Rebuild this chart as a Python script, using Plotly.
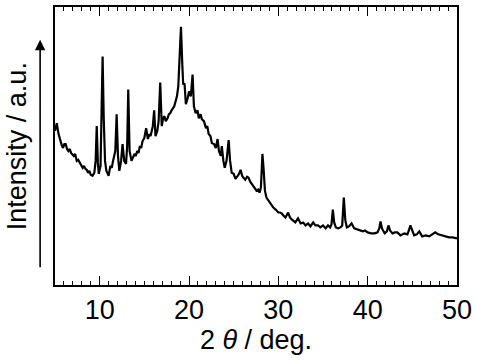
import plotly.graph_objects as go

# 2theta (deg) and intensity (a.u.)
two_theta = [
    5.0, 5.2, 5.4, 5.6, 5.75, 5.9, 6.05, 6.2, 6.35, 6.5, 6.65, 6.8, 6.95, 7.1, 7.25,
    7.44, 7.6, 7.8, 7.95, 8.1, 8.25, 8.4, 8.55, 8.7, 8.85, 9.0, 9.2, 9.4, 9.55, 9.67,
    9.8, 9.9, 10.1, 10.22, 10.33, 10.45, 10.6, 10.75, 11.0, 11.2, 11.35, 11.5, 11.75,
    11.9, 12.05, 12.2, 12.4, 12.56, 12.75, 12.95, 13.08, 13.2, 13.35, 13.56, 13.75,
    13.9, 14.05, 14.2, 14.35, 14.5, 14.65, 14.8, 15.0, 15.2, 15.4, 15.55, 15.7, 15.95,
    16.1, 16.25, 16.45, 16.6, 16.78, 16.95, 17.1, 17.25, 17.4, 17.6, 17.75, 17.9, 18.05,
    18.2, 18.35, 18.5, 18.65, 18.8, 18.95, 19.1, 19.25, 19.35, 19.5, 19.65, 19.85, 20.0,
    20.2, 20.4, 20.55, 20.75, 20.95, 21.1, 21.3, 21.44, 21.67, 21.9, 22.05, 22.2, 22.4,
    22.56, 22.8, 23.0, 23.2, 23.35, 23.56, 23.67, 23.85, 24.0, 24.2, 24.44, 24.6,
    24.78, 25.0, 25.2, 25.45, 25.6, 25.78, 25.95, 26.1, 26.3, 26.5, 26.67, 26.85, 27.0,
    27.2, 27.4, 27.56, 27.75, 27.9, 28.05, 28.22, 28.35, 28.5, 28.67, 28.9, 29.2, 29.44,
    29.7, 30.0, 30.2, 30.4, 30.56, 30.8, 31.1, 31.3, 31.5, 31.67, 31.9, 32.2, 32.5,
    32.78, 33.05, 33.33, 33.6, 33.9, 34.15, 34.44, 34.7, 35.0, 35.3, 35.56, 35.8, 35.95,
    36.1, 36.25, 36.44, 36.7, 36.95, 37.15, 37.33, 37.5, 37.67, 37.9, 38.2, 38.5, 38.9,
    39.2, 39.44, 39.7, 40.0, 40.4, 40.78, 41.1, 41.3, 41.44, 41.6, 41.9, 42.15, 42.33,
    42.5, 42.78, 43.05, 43.33, 43.67, 44.1, 44.45, 44.65, 44.78, 44.95, 45.2, 45.5,
    45.78, 46.1, 46.5, 46.9, 47.2, 47.56, 47.9, 48.33, 48.7, 49.1, 49.5, 50.0,
]
intensity = [
    155, 163, 152, 145, 141, 138, 142, 142, 137, 135, 137, 133, 131, 130, 132,
    125, 126, 123, 120, 118, 120, 117, 116, 113, 115, 111, 110, 113, 125, 160,
    123, 112, 120, 175, 230, 170, 125, 115, 110, 120, 118, 125, 135,
    172, 130, 115, 125, 142, 125, 122, 140, 197, 135, 125, 130,
    132, 130, 135, 133, 140, 138, 145, 148, 158, 147, 152, 150, 160,
    176, 150, 155, 165, 204, 160, 168, 170, 165, 168, 172, 173, 176,
    178, 180, 185, 190, 200, 225, 260, 222, 202, 203, 182, 188, 195,
    190, 212, 180, 173, 176, 168, 172, 167, 165, 158, 160, 152, 150,
    143, 142, 138, 147, 135, 130, 140, 125, 118, 125, 146, 125,
    113, 112, 107, 110, 112, 116, 110, 108, 106, 109, 108, 104, 102,
    100, 97, 95, 96, 93, 98, 132, 117, 95, 88, 85, 80, 78,
    76, 73, 73, 72, 70, 68, 73, 68, 66, 65, 63, 67, 62,
    63, 60, 62, 59, 63, 60, 60, 58, 60, 57, 60, 58, 61,
    76, 63, 58, 57, 58, 60, 88, 65, 58, 59, 62, 57, 56,
    55, 54, 55, 53, 52, 52, 53, 57, 64, 57, 52, 54, 60,
    55, 52, 53, 53, 50, 52, 51, 56, 60, 56, 50, 51,
    54, 49, 50, 49, 51, 53, 51, 50, 49, 48, 48, 47,
]

FONT = "Liberation Sans, Arial, sans-serif"
TEXT_SIZE = 27

fig = go.Figure()

fig.add_trace(go.Scatter(
    x=two_theta,
    y=intensity,
    mode="lines",
    line=dict(color="black", width=2.2),
    showlegend=False,
))

# arrow along the intensity axis
fig.add_annotation(
    x=-0.037, y=0.882, xref="paper", yref="paper",
    ax=0, ay=229, axref="pixel", ayref="pixel",
    text="", showarrow=True,
    arrowhead=2, arrowsize=1.3, arrowwidth=1.6, arrowcolor="black",
)

fig.add_annotation(
    x=-0.094, y=0.5, xref="paper", yref="paper", xanchor="center", yanchor="middle",
    text="Intensity / a.u.", textangle=-90, showarrow=False,
    font=dict(family=FONT, size=TEXT_SIZE, color="black"),
)

fig.update_xaxes(
    range=[5, 50],
    tickvals=[10, 20, 30, 40, 50],
    ticks="inside", ticklen=9, tickwidth=1.3, tickcolor="black",
    minor=dict(dtick=1, ticks="inside", ticklen=4, tickwidth=1, tickcolor="black"),
    showline=True, linecolor="black", linewidth=1.5, mirror="allticks",
    showgrid=False, zeroline=False,
    tickfont=dict(family=FONT, size=TEXT_SIZE, color="black"),
    title=dict(text="2 <i>θ</i> / deg.", font=dict(family=FONT, size=TEXT_SIZE, color="black"),
               standoff=0),
)
fig.update_yaxes(
    range=[0, 280],
    showticklabels=False, ticks="",
    showline=True, linecolor="black", linewidth=1.5, mirror=True,
    showgrid=False, zeroline=False,
)

fig.update_layout(
    width=477, height=361,
    margin=dict(l=55, r=17, t=5, b=76),
    plot_bgcolor="white", paper_bgcolor="white",
    font=dict(family=FONT, color="black"),
)

fig.write_html("out.html", config={"displayModeBar": False},
               post_script="document.body.style.margin='0';")
